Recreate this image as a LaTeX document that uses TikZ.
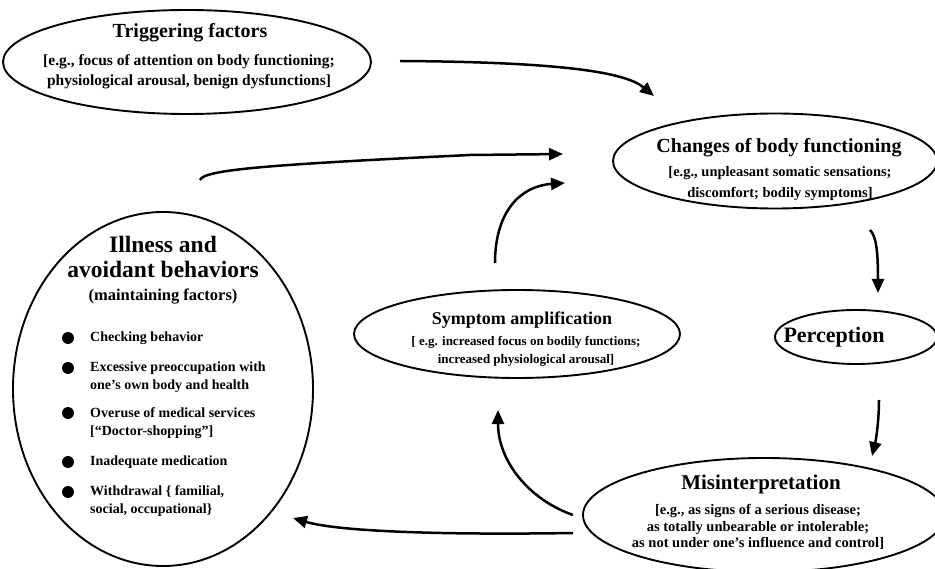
\documentclass[tikz,border=0pt]{standalone}
\usepackage{fontspec}
\setmainfont{Liberation Serif}
\usetikzlibrary{shapes.geometric,arrows.meta}
\begin{document}
\begin{tikzpicture}[x=1pt,y=-1pt,
  oval/.style={draw,ellipse,line width=1.9pt,inner sep=0pt},
  ttl/.style={inner sep=0pt,align=center,font=\bfseries\fontsize{20}{22}\selectfont},
  det/.style={inner sep=0pt,align=center,font=\bfseries\fontsize{15}{20}\selectfont},
  item/.style={inner sep=0pt,anchor=west,align=left,font=\bfseries\fontsize{14}{18}\selectfont},
  dot/.style={circle,fill,inner sep=0pt,minimum size=12pt},
  conn/.style={line width=2.5pt,-{Triangle[length=14pt,width=12pt]}},
  ]
\useasboundingbox[fill=white] (0,0) rectangle (935,569);

% Triggering factors
\node[oval,minimum width=368pt,minimum height=104pt] (trig) at (187,62) {};
\node[ttl] (trigT) at (190,33) {Triggering factors};
\node[det,font=\bfseries\fontsize{15.5}{20}\selectfont] (trigD) at (189,72) {[e.g., focus of attention on body functioning;\\physiological arousal, benign dysfunctions]};

% Changes of body functioning
\node[oval,minimum width=324pt,minimum height=95pt] (chg) at (775,161) {};
\node[ttl] (chgT) at (779,148) {Changes of body functioning};
\node[det,font=\bfseries\fontsize{14.5}{21}\selectfont] (chgD) at (780,184) {[e.g., unpleasant somatic sensations;\\discomfort; bodily symptoms]};

% Perception
\node[oval,minimum width=162pt,minimum height=54pt] (perc) at (856,337) {};
\node[ttl,font=\bfseries\fontsize{22}{24}\selectfont] (percT) at (834,337) {Perception};

% Symptom amplification
\node[oval,minimum width=326pt,minimum height=88pt] (symp) at (517,334) {};
\node[ttl,font=\bfseries\fontsize{18}{20}\selectfont] (sympT) at (522,320) {Symptom amplification};
\node[det,font=\bfseries\fontsize{13}{18}\selectfont] (sympD) at (526,351) {[ e.g. increased focus on bodily functions;\\increased physiological arousal]};

% Misinterpretation
\node[oval,minimum width=362pt,minimum height=114pt] (mis) at (764,515) {};
\node[ttl,font=\bfseries\fontsize{21}{22}\selectfont] (misT) at (761,484) {Misinterpretation};
\node[det,font=\bfseries\fontsize{14.5}{16.5}\selectfont] (misD) at (758,527) {[e.g., as signs of a serious disease;\\as totally unbearable or intolerable;\\as not under one’s influence and control]};

% Illness and avoidant behaviors
\node[oval,minimum width=300pt,minimum height=354pt] (ill) at (163,389) {};
\node[ttl,font=\bfseries\fontsize{23.5}{25}\selectfont] (illT) at (163,257) {Illness and\\avoidant behaviors};
\node[ttl,font=\bfseries\fontsize{16.5}{18}\selectfont] (illS) at (163,297) {(maintaining factors)};
\node[dot] (b1) at (68,338) {};
\node[dot] (b2) at (68,368) {};
\node[dot] (b3) at (68,413) {};
\node[dot] (b4) at (68,462) {};
\node[dot] (b5) at (68,492) {};
\node[item] (i1) at (90,338) {Checking behavior};
\node[item] (i2) at (90,377) {Excessive preoccupation with\\one’s own body and health};
\node[item] (i3) at (90,423) {Overuse of medical services\\{[}“Doctor-shopping”{]}};
\node[item] (i4) at (90,462) {Inadequate medication};
\node[item] (i5) at (90,501) {Withdrawal \{ familial,\\social, occupational\}};

% connectors
\coordinate (a1s) at (400,61);
\coordinate (a1e) at (654,96);
\draw[conn] (a1s) .. controls (560,62) and (625,72) .. (a1e);

\coordinate (a2s) at (200,180);
\coordinate (a2m) at (470,155);
\coordinate (a2e) at (563,154);
\draw[conn] (a2s) .. controls (204,170) and (260,165) .. (a2m) -- (a2e);

\coordinate (a3s) at (495,263);
\coordinate (a3e) at (565,183);
\draw[conn] (a3s) .. controls (495,212) and (520,186) .. (a3e);

\coordinate (a4s) at (870,230);
\coordinate (a4e) at (878,293);
\draw[conn] (a4s) .. controls (876,236) and (878,250) .. (a4e);

\coordinate (a5s) at (879,400);
\coordinate (a5e) at (872,456);
\draw[conn] (a5s) .. controls (879,420) and (876,440) .. (a5e);

\coordinate (a6s) at (573,515);
\coordinate (a6e) at (498,410);
\draw[conn] (a6s) .. controls (530,500) and (498,462) .. (a6e);

\coordinate (a7s) at (573,533);
\coordinate (a7e) at (293,518);
\draw[conn] (a7s) .. controls (450,535) and (340,532) .. (a7e);
\end{tikzpicture}
\end{document}
